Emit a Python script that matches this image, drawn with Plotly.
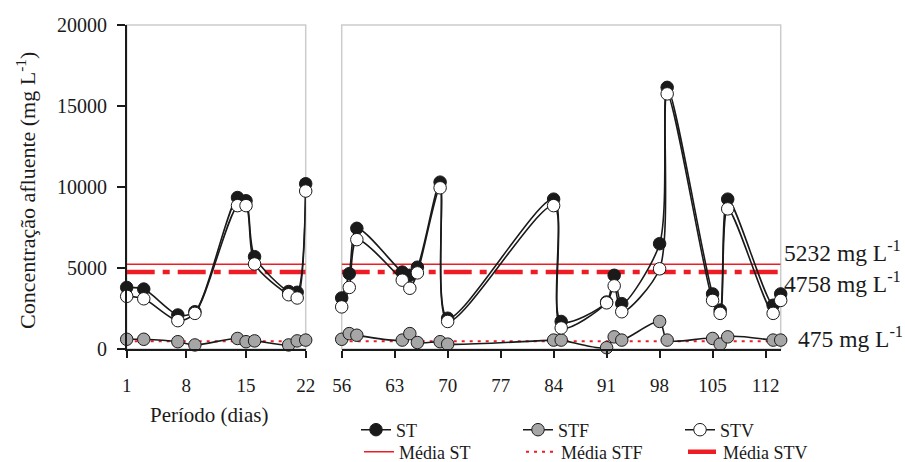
import plotly.graph_objects as go

# ---------------- data ----------------
days_left = [1, 3, 7, 9, 14, 15, 16, 20, 21, 22]
st_left = [3800, 3700, 2100, 2300, 9350, 9150, 5700, 3550, 3500, 10200]
stf_left = [600, 600, 450, 250, 650, 450, 500, 250, 500, 550]
stv_left = [3250, 3100, 1750, 2200, 8850, 8850, 5250, 3350, 3150, 9750]

days_right = [56, 57, 58, 64, 65, 66, 69, 70, 84, 85, 91, 92, 93, 98, 99, 105, 106, 107, 113, 114]
st_right = [3150, 4650, 7450, 4750, 4550, 5050, 10300, 1900, 9250, 1700, 2900, 4550, 2800, 6500,
            16150, 3400, 2400, 9250, 2700, 3400]
stf_right = [600, 950, 850, 550, 950, 400, 450, 300, 550, 550, 80, 750, 550, 1700,
             550, 650, 300, 750, 550, 550]
stv_right = [2600, 3800, 6750, 4250, 3750, 4700, 9950, 1700, 8850, 1300, 2850, 3900, 2300, 4950,
             15750, 3000, 2200, 8650, 2200, 3000]

mean_st = 5232
mean_stf = 475
mean_stv = 4758

ticks_left = [1, 8, 15, 22]
ticks_right = [56, 63, 70, 77, 84, 91, 98, 105, 112]
range_left = [1, 22]
range_right = [56, 114]
y_ticks = [0, 5000, 10000, 15000, 20000]

# ---------------- style ----------------
W, H = 905, 462
FONT = "Liberation Serif"
RED = "#ee1c25"
INK = "#1a1a1a"

def px_x(p):
    return p / W

def px_y(p):
    return (H - p) / H

fig = go.Figure()

series = [
    ("ST", st_left, st_right, "#1a1a1a"),
    ("STF", stf_left, stf_right, "#a6a6a6"),
    ("STV", stv_left, stv_right, "#ffffff"),
]
means = [
    ("Média ST", mean_st, dict(color=RED, width=1.5, dash="solid")),
    ("Média STF", mean_stf, dict(color=RED, width=2, dash="3px,5px")),
    ("Média STV", mean_stv, dict(color=RED, width=4.5, dash="28px,8px,7px,8px")),
]

for i, (name, val, line) in enumerate(means):
    for xa, ya, rng, show in [("x", "y", range_left, True), ("x2", "y2", range_right, False)]:
        fig.add_trace(go.Scatter(
            x=rng, y=[val, val], mode="lines", name=name, line=line,
            xaxis=xa, yaxis=ya, showlegend=show, legendgroup=name, legend="legend2",
            legendrank=i + 1, cliponaxis=False, hoverinfo="skip"))

for i, (name, yl, yr, color) in enumerate(series):
    for xa, ya, xs, ys, show in [("x", "y", days_left, yl, True), ("x2", "y2", days_right, yr, False)]:
        fig.add_trace(go.Scatter(
            x=xs, y=ys, mode="lines+markers", name=name,
            line=dict(color=INK, width=1.6, shape="spline", smoothing=0.8),
            marker=dict(size=12.5, color=color, line=dict(color=INK, width=1)),
            xaxis=xa, yaxis=ya, showlegend=show, legendgroup=name, legend="legend",
            legendrank=i + 1, cliponaxis=False))

for xr, yr in [("x domain", "y domain"), ("x2 domain", "y2 domain")]:
    fig.add_shape(type="rect", xref=xr, yref=yr, x0=0, x1=1, y0=0, y1=1,
                  line=dict(color="#cccccc", width=1.5), layer="below")

tick_font = dict(family=FONT, size=19, color=INK)
ydom = [px_y(349), px_y(25)]
leg_common = dict(orientation="h", xanchor="left", yanchor="middle",
                  entrywidth=117, entrywidthmode="pixels", tracegroupgap=0, itemwidth=30,
                  font=dict(family=FONT, size=18, color=INK), bgcolor="rgba(0,0,0,0)",
                  traceorder="normal")

fig.update_layout(
    width=W, height=H,
    margin=dict(l=0, r=0, t=0, b=0, autoexpand=False),
    paper_bgcolor="white", plot_bgcolor="white",
    font=dict(family=FONT, size=18, color=INK),
    xaxis=dict(domain=[px_x(126.7), px_x(305.7)], range=range_left, tickvals=ticks_left,
               showgrid=False, zeroline=False, showline=True, linecolor=INK, linewidth=1.5,
               ticks="outside", ticklen=7, tickcolor=INK, tickwidth=1.5,
               tickfont=tick_font, ticklabelstandoff=11, anchor="y", automargin=False),
    xaxis2=dict(domain=[px_x(341.7), px_x(780.7)], range=range_right, tickvals=ticks_right,
                showgrid=False, zeroline=False, showline=True, linecolor=INK, linewidth=2,
                ticks="outside", ticklen=7, tickcolor=INK, tickwidth=1.5,
                tickfont=tick_font, ticklabelstandoff=11, anchor="y2", automargin=False),
    yaxis=dict(domain=ydom, range=[0, 20000], tickvals=y_ticks, tickformat="d",
               showgrid=False, zeroline=False, showline=True, linecolor=INK, linewidth=1.5,
               ticks="outside", ticklen=8, tickcolor=INK, tickwidth=1.5,
               tickfont=dict(family=FONT, size=20, color=INK), ticklabelstandoff=6,
               anchor="x", automargin=False),
    yaxis2=dict(domain=ydom, range=[0, 20000], showgrid=False, zeroline=False, showline=False,
                showticklabels=False, ticks="", anchor="x2", automargin=False),
    showlegend=True,
    legend=dict(x=px_x(356), y=px_y(430), **leg_common),
    legend2=dict(x=px_x(359), y=px_y(452), **leg_common),
)

ann_font = dict(family=FONT, size=23.5, color=INK)
fig.add_annotation(x=px_x(782), y=px_y(251), xref="paper", yref="paper", xanchor="left",
                   yanchor="middle", text="5232 mg L<sup>-1</sup>", showarrow=False, font=ann_font)
fig.add_annotation(x=px_x(782), y=px_y(282), xref="paper", yref="paper", xanchor="left",
                   yanchor="middle", text="4758 mg L<sup>-1</sup>", showarrow=False, font=ann_font)
fig.add_annotation(x=px_x(796), y=px_y(337), xref="paper", yref="paper", xanchor="left",
                   yanchor="middle", text="475 mg L<sup>-1</sup>", showarrow=False, font=ann_font)
fig.add_annotation(x=px_x(26), y=px_y(191), xref="paper", yref="paper", textangle=-90,
                   xanchor="center", yanchor="middle",
                   text="Concentração afluente (mg L<sup>-1</sup>)", showarrow=False,
                   font=dict(family=FONT, size=22, color=INK))
fig.add_annotation(x=px_x(209), y=px_y(401), xref="paper", yref="paper",
                   xanchor="center", yanchor="top",
                   text="Período (dias)", showarrow=False,
                   font=dict(family=FONT, size=21, color=INK))

fig.write_html("out.html")
